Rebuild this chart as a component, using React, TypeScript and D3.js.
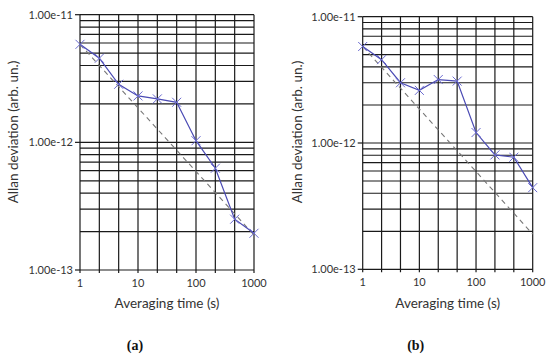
import React, { useEffect, useRef } from 'react';
import * as d3 from 'd3';

// averaging times (category axis, Excel-style: equally spaced)
const taus = ['1', '2', '5', '10', '20', '50', '100', '200', '500', '1000'];
const tauLabels = ['1', '10', '100', '1000'];
const yTicks = [1e-13, 1e-12, 1e-11];

// Allan deviation, panel (a)
const adevA = [5.86e-12, 4.56e-12, 2.85e-12, 2.31e-12, 2.19e-12, 2.06e-12, 1.03e-12, 6.27e-13, 2.5e-13, 1.94e-13];
// Allan deviation, panel (b)
const adevB = [5.81e-12, 4.57e-12, 3.0e-12, 2.61e-12, 3.18e-12, 3.09e-12, 1.21e-12, 8.05e-13, 7.72e-13, 4.43e-13];

// tau^-1/2 guide lines (endpoints)
const refA: [string, number][] = [['1', 5.86e-12], ['1000', 1.88e-13]];
const refB: [string, number][] = [['1', 5.81e-12], ['1000', 1.9e-13]];

const FONT = "Lato, 'Open Sans', sans-serif";

interface PanelFrame {
  left: number;
  top: number;
  width: number;
  height: number;
  yTitleX: number;
  tag: string;
}

const frames: PanelFrame[] = [
  { left: 80, top: 14.7, width: 174, height: 255.3, yTitleX: 13, tag: '(a)' },
  { left: 362.7, top: 16.7, width: 170, height: 252.6, yTitleX: 297, tag: '(b)' },
];

function drawPanel(
  root: d3.Selection<SVGSVGElement, unknown, null, undefined>,
  f: PanelFrame,
  values: number[],
  ref: [string, number][]
) {
  const x = d3.scalePoint<string>().domain(taus).range([f.left, f.left + f.width]).padding(0);
  const y = d3.scaleLog().domain([1e-13, 1e-11]).range([f.top + f.height, f.top]);

  const g = root.append('g');

  // horizontal grid (major + minor log lines)
  const hLines: number[] = [];
  [1e-13, 1e-12].forEach(dec => {
    for (let k = 1; k <= 9; k++) hLines.push(dec * k);
  });
  hLines.push(1e-11);
  g.selectAll('line.h')
    .data(hLines)
    .enter()
    .append('line')
    .attr('x1', f.left)
    .attr('x2', f.left + f.width)
    .attr('y1', d => y(d))
    .attr('y2', d => y(d))
    .attr('stroke', '#1a1a1a')
    .attr('stroke-width', 1.2);

  // vertical grid at each category, with tick below
  g.selectAll('line.v')
    .data(taus)
    .enter()
    .append('line')
    .attr('x1', d => x(d)!)
    .attr('x2', d => x(d)!)
    .attr('y1', f.top)
    .attr('y2', f.top + f.height + 3)
    .attr('stroke', '#1a1a1a')
    .attr('stroke-width', 1.2);

  // y major ticks
  g.selectAll('line.yt')
    .data(yTicks)
    .enter()
    .append('line')
    .attr('x1', f.left - 5)
    .attr('x2', f.left)
    .attr('y1', d => y(d))
    .attr('y2', d => y(d))
    .attr('stroke', '#1a1a1a')
    .attr('stroke-width', 1.2);

  g.selectAll('text.yl')
    .data(yTicks)
    .enter()
    .append('text')
    .attr('x', f.left - 7)
    .attr('y', d => y(d) + 4)
    .attr('text-anchor', 'end')
    .style('font-family', FONT)
    .style('font-size', '11px')
    .attr('fill', '#333')
    .text(d => d.toExponential(2));

  g.selectAll('text.xl')
    .data(tauLabels)
    .enter()
    .append('text')
    .attr('x', d => x(d)!)
    .attr('y', f.top + f.height + 17)
    .attr('text-anchor', 'middle')
    .style('font-family', FONT)
    .style('font-size', '11px')
    .attr('fill', '#333')
    .text(d => d);

  // axis titles
  g.append('text')
    .attr('x', f.left + f.width / 2)
    .attr('y', 308)
    .attr('text-anchor', 'middle')
    .style('font-family', FONT)
    .style('font-size', '13.5px')
    .attr('fill', '#333')
    .text('Averaging time (s)');

  g.append('text')
    .attr('transform', `translate(${f.yTitleX + 5},132) rotate(-90)`)
    .attr('text-anchor', 'middle')
    .style('font-family', FONT)
    .style('font-size', '13.5px')
    .attr('fill', '#333')
    .text('Allan deviation (arb. un.)');

  g.append('text')
    .attr('x', f.left + f.width / 2 - 32)
    .attr('y', 350)
    .attr('text-anchor', 'middle')
    .style('font-family', "'Liberation Serif', 'DejaVu Serif', serif")
    .style('font-size', '14px')
    .style('font-weight', 'bold')
    .attr('fill', '#111')
    .text(f.tag);

  // tau^-1/2 reference
  const refLine = d3.line<[string, number]>().x(d => x(d[0])!).y(d => y(d[1]));
  g.append('path')
    .datum(ref)
    .attr('d', refLine)
    .attr('fill', 'none')
    .attr('stroke', '#777')
    .attr('stroke-width', 1.1)
    .attr('stroke-dasharray', '5,4');

  // data series
  const pts = taus.map((t, i) => [t, values[i]] as [string, number]);
  g.append('path')
    .datum(pts)
    .attr('d', refLine)
    .attr('fill', 'none')
    .attr('stroke', '#4a4ab4')
    .attr('stroke-width', 1.2);

  const s = 4.5;
  g.selectAll('path.mk')
    .data(pts)
    .enter()
    .append('path')
    .attr('d', d => {
      const cx = x(d[0])!;
      const cy = y(d[1]);
      return `M${cx - s},${cy - s}L${cx + s},${cy + s}M${cx - s},${cy + s}L${cx + s},${cy - s}`;
    })
    .attr('stroke', '#6a6ad0')
    .attr('stroke-width', 1);
}

export default function App() {
  const svgRef = useRef<SVGSVGElement>(null);

  useEffect(() => {
    if (!svgRef.current) return;
    const root = d3.select(svgRef.current);
    root.selectAll('*').remove();
    drawPanel(root, frames[0], adevA, refA);
    drawPanel(root, frames[1], adevB, refB);
  }, []);

  return (
    <svg
      ref={svgRef}
      width={550}
      height={358}
      style={{ position: 'absolute', left: 0, top: 0, background: '#fff' }}
    />
  );
}
